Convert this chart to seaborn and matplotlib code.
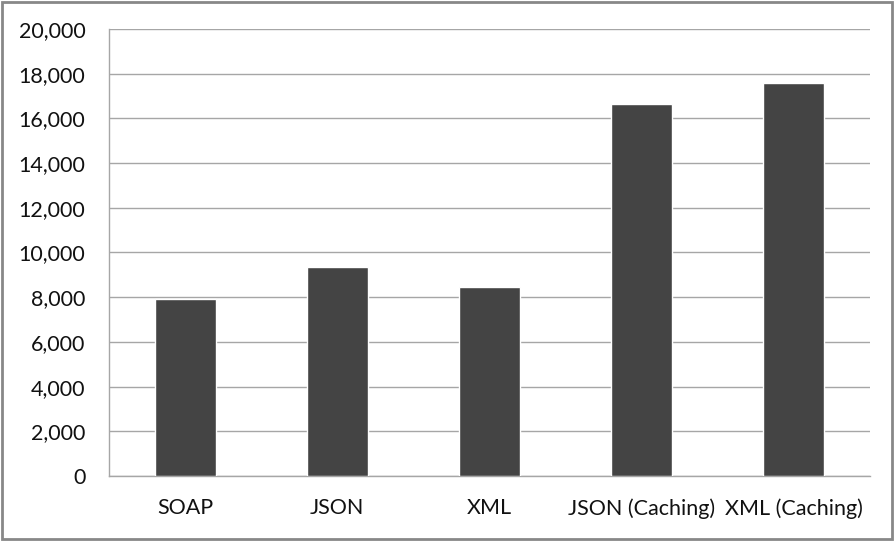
import numpy as np
import pandas as pd
import matplotlib
matplotlib.use("Agg")
import matplotlib.pyplot as plt
import seaborn as sns
from matplotlib.patches import Rectangle
from matplotlib.ticker import FuncFormatter, FixedLocator

# data
categories = ["SOAP", "JSON", "XML", "JSON (Caching)", "XML (Caching)"]
values = [7900, 9350, 8450, 16650, 17600]

df = pd.DataFrame({"category": categories, "value": values})

sns.set_style("white")
plt.rcParams["font.family"] = ["Lato", "DejaVu Sans"]

fig = plt.figure(figsize=(8.95, 5.41), dpi=100)
ax = fig.add_axes([109 / 895, 1 - 476 / 541, (870 - 109) / 895, (476 - 29) / 541])

sns.barplot(data=df, x="category", y="value", color="#444444", width=0.4,
            saturation=1, ax=ax, zorder=3)

ax.set_ylim(0, 20000)
ax.set_xlim(-0.5, len(categories) - 0.5)
ax.set_yticks(np.arange(0, 20001, 2000))
ax.yaxis.set_major_formatter(FuncFormatter(lambda v, p: f"{int(v):,}"))
ax.grid(axis="y", color="#a6a6a6", linewidth=1.0, zorder=0)
ax.set_axisbelow(True)
ax.set_xlabel("")
ax.set_ylabel("")

for side in ["top", "right"]:
    ax.spines[side].set_visible(False)
for side in ["left", "bottom"]:
    ax.spines[side].set_color("#a6a6a6")
    ax.spines[side].set_linewidth(1.0)

# category boundary ticks on x, labels without ticks
ax.xaxis.set_minor_locator(FixedLocator(np.arange(-0.5, len(categories), 1.0)))
ax.tick_params(axis="x", which="major", length=0, pad=16, labelsize=15.5, colors="#111111")
ax.tick_params(axis="x", which="minor", length=7, width=1, color="#a6a6a6", direction="out")
ax.tick_params(axis="y", length=5, width=1, color="#a6a6a6", direction="out",
               pad=12, labelsize=15.5, labelcolor="#111111")

# chart-area frame
fig.patches.append(Rectangle((0.002, 0.003), 0.995, 0.994, transform=fig.transFigure,
                             fill=False, edgecolor="#888888", linewidth=2))

fig.savefig("out.png", dpi=100)
